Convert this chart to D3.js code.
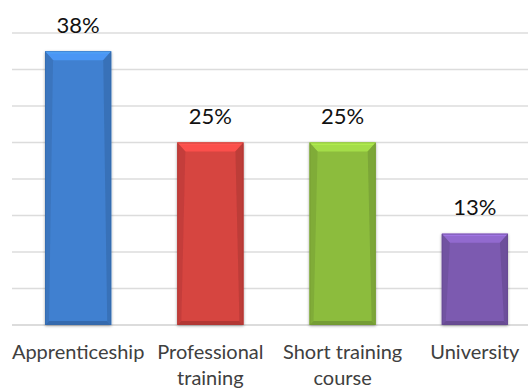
<!DOCTYPE html>
<html><head><meta charset="utf-8">
<script src="https://cdn.jsdelivr.net/npm/d3@7"></script>
<style>html,body{margin:0;padding:0;background:#fff;}svg{display:block;}</style>
</head><body>
<svg id="c" width="528" height="388"></svg>
<script>
const categories = ["Apprenticeship", "Professional training", "Short training course", "University"];
const categoryLines = [["Apprenticeship"], ["Professional", "training"], ["Short training", "course"], ["University"]];
const values = [37.5, 25, 25, 12.5];
const colors = ["#4080d0", "#d64440", "#8cbc3e", "#7c5ab0"];
const yTicks = [0, 5, 10, 15, 20, 25, 30, 35, 40];

const svg = d3.select("#c");
const W = 528, H = 388;
const x = d3.scaleBand().domain(categories).range([12, 541]).paddingInner(0.5).paddingOuter(0.25);
const y = d3.scaleLinear().domain([0, 40]).range([325, 33]);

// gridlines
svg.append("g").selectAll("line").data(yTicks).join("line")
  .attr("x1", 12).attr("x2", W)
  .attr("y1", d => y(d)).attr("y2", d => y(d))
  .attr("stroke", d => d === 0 ? "#d0d0d0" : "#dcdcdc").attr("stroke-width", 1.5);

const defs = svg.append("defs");
const flt = defs.append("filter").attr("id", "sh").attr("x", "-20%").attr("y", "-20%").attr("width", "140%").attr("height", "140%");
flt.append("feGaussianBlur").attr("in", "SourceAlpha").attr("stdDeviation", 1.5).attr("result", "b");
flt.append("feOffset").attr("in", "b").attr("dx", 0).attr("dy", 1).attr("result", "o");
flt.append("feComponentTransfer").attr("in", "o").attr("result", "o2").append("feFuncA").attr("type", "linear").attr("slope", 0.35);
const mg = flt.append("feMerge"); mg.append("feMergeNode").attr("in", "o2"); mg.append("feMergeNode").attr("in", "SourceGraphic");

const bars = svg.append("g").selectAll("g").data(categories).join("g").attr("filter", "url(#sh)");
bars.each(function(c, i) {
  const g = d3.select(this);
  const x0 = x(c), w = x.bandwidth(), y0 = y(values[i]), y1 = y(0);
  const col = d3.color(colors[i]);
  const bt = 9, bs = 4, bb = 4;
  g.append("rect").attr("x", x0).attr("y", y0).attr("width", w).attr("height", y1 - y0).attr("fill", col);
  // top bevel
  g.append("path").attr("d", `M${x0},${y0}L${x0 + w},${y0}L${x0 + w - bs - 4},${y0 + bt}L${x0 + bs + 4},${y0 + bt}Z`)
    .attr("fill", col.brighter(0.45));
  g.append("path").attr("d", `M${x0},${y0}L${x0 + w},${y0}L${x0 + w - 1},${y0 + 2}L${x0 + 1},${y0 + 2}Z`)
    .attr("fill", col.brighter(0.8));
  // left bevel
  g.append("path").attr("d", `M${x0},${y0}L${x0 + bs + 4},${y0 + bt}L${x0 + bs},${y1 - bb}L${x0},${y1}Z`)
    .attr("fill", col.darker(0.25));
  // right bevel
  g.append("path").attr("d", `M${x0 + w},${y0}L${x0 + w - bs - 4},${y0 + bt}L${x0 + w - bs},${y1 - bb}L${x0 + w},${y1}Z`)
    .attr("fill", col.darker(0.35));
  // bottom bevel
  g.append("path").attr("d", `M${x0},${y1}L${x0 + bs},${y1 - bb}L${x0 + w - bs},${y1 - bb}L${x0 + w},${y1}Z`)
    .attr("fill", col.darker(0.5));
  g.append("rect").attr("x", x0 + 0.5).attr("y", y0 + 0.5).attr("width", w - 1).attr("height", y1 - y0 - 1)
    .attr("fill", "none").attr("stroke", col.darker(0.6)).attr("stroke-width", 1).attr("stroke-opacity", 0.6);
});

// value labels
svg.append("g").selectAll("text").data(categories).join("text")
  .attr("x", c => x(c) + x.bandwidth() / 2)
  .attr("y", (c, i) => y(values[i]) - 18.5)
  .attr("text-anchor", "middle")
  .attr("font-family", "Lato, 'Open Sans', sans-serif").attr("font-size", 22)
  .attr("fill", "#111")
  .text((c, i) => Math.round(values[i]) + "%");

// category labels
const cl = svg.append("g").selectAll("text").data(categories).join("text")
  .attr("x", c => x(c) + x.bandwidth() / 2)
  .attr("y", 358.5)
  .attr("text-anchor", "middle")
  .attr("font-family", "Lato, 'Open Sans', sans-serif").attr("font-size", 20)
  .attr("fill", "#404040");
cl.each(function(c, i) {
  const t = d3.select(this);
  categoryLines[i].forEach((ln, k) => {
    t.append("tspan").attr("x", x(c) + x.bandwidth() / 2).attr("dy", k === 0 ? 0 : 26).text(ln);
  });
});
</script>
</body></html>
